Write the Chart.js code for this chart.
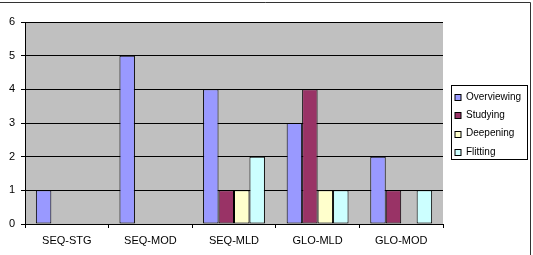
<!DOCTYPE html>
<html>
<head>
<meta charset="utf-8">
<script src="https://cdn.jsdelivr.net/npm/chart.js@4/dist/chart.umd.min.js"></script>
<style>
  html, body { margin: 0; padding: 0; background: #fff; }
  #wrap { position: relative; width: 533px; height: 255px; }
</style>
</head>
<body>
<div id="wrap"><canvas id="modesChart" width="533" height="255"></canvas></div>
<script>
// categories and series
const categories = ['SEQ-STG', 'SEQ-MOD', 'SEQ-MLD', 'GLO-MLD', 'GLO-MOD'];
const overviewing = [1, 5, 4, 3, 2];
const studying = [0, 0, 1, 4, 1];
const deepening = [0, 0, 1, 1, 0];
const flitting = [0, 0, 2, 1, 1];
const yTicks = [0, 1, 2, 3, 4, 5, 6];

const FAMILY = "'Liberation Sans', Arial, sans-serif";
const AXIS_FONT = { family: FAMILY, size: 11 };
const LEGEND_SIZE = 10;

// grey plot background, outer frame lines and boxed legend (Excel look)
const excelLook = {
  id: 'excelLook',
  beforeDraw(chart) {
    const { ctx, chartArea: a } = chart;
    ctx.save();
    ctx.fillStyle = '#c0c0c0';
    ctx.fillRect(a.left, a.top, a.right - a.left, a.bottom - a.top);
    ctx.restore();
  },
  afterDraw(chart) {
    const ctx = chart.ctx;
    ctx.save();
    // frame: top and right edges
    ctx.strokeStyle = '#333';
    ctx.lineWidth = 1;
    ctx.beginPath();
    ctx.moveTo(0, 2.5);
    ctx.lineTo(530.5, 2.5);
    ctx.lineTo(530.5, 255);
    ctx.stroke();

    // legend box
    const bx = 451.5, by = 85.5, bw = 76, bh = 74;
    ctx.strokeStyle = '#000';
    ctx.strokeRect(bx, by, bw, bh);
    ctx.font = LEGEND_SIZE + 'px ' + FAMILY;
    ctx.textBaseline = 'middle';
    chart.data.datasets.forEach((ds, i) => {
      const cy = by + 11.5 + i * 18.3;
      ctx.fillStyle = ds.backgroundColor;
      ctx.fillRect(bx + 3.5, Math.round(cy - 3) + 0.5, 6, 6);
      ctx.strokeStyle = '#000';
      ctx.strokeRect(bx + 3.5, Math.round(cy - 3) + 0.5, 6, 6);
      ctx.fillStyle = '#000';
      ctx.fillText(ds.label, bx + 14.5, cy);
    });
    ctx.restore();
  }
};

const barStyle = { borderColor: '#000', borderWidth: 1, borderSkipped: false };

const chart = new Chart(document.getElementById('modesChart'), {
  type: 'bar',
  data: {
    labels: categories,
    datasets: [
      { label: 'Overviewing', data: overviewing, backgroundColor: '#9999ff', ...barStyle },
      { label: 'Studying', data: studying, backgroundColor: '#993366', ...barStyle },
      { label: 'Deepening', data: deepening, backgroundColor: '#ffffcc', ...barStyle },
      { label: 'Flitting', data: flitting, backgroundColor: '#ccffff', ...barStyle }
    ]
  },
  options: {
    responsive: false,
    animation: false,
    layout: { padding: { top: 22, right: 90, left: 0, bottom: 0 } },
    datasets: { bar: { categoryPercentage: 0.74, barPercentage: 1 } },
    plugins: {
      legend: { display: false },
      tooltip: { enabled: false }
    },
    scales: {
      x: {
        grid: { offset: true, drawOnChartArea: false, drawTicks: true, tickLength: 4, color: '#000' },
        border: { color: '#000', width: 1 },
        ticks: { font: AXIS_FONT, color: '#000', padding: 6, maxRotation: 0 },
        afterFit(s) { s.height = 31; }
      },
      y: {
        min: 0,
        max: 6,
        afterBuildTicks(s) { s.ticks = yTicks.map(v => ({ value: v })); },
        grid: { color: '#000', drawTicks: true, tickLength: 4 },
        border: { color: '#000', width: 1 },
        ticks: { font: AXIS_FONT, color: '#000', padding: 6 },
        afterFit(s) { s.width = 25; }
      }
    }
  },
  plugins: [excelLook]
});
</script>
</body>
</html>
